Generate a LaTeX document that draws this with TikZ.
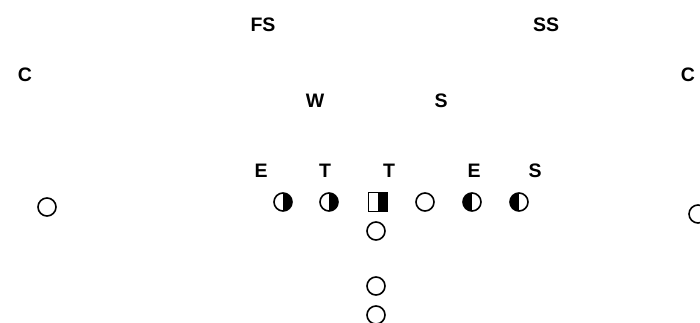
\documentclass[tikz,border=0pt]{standalone}
\usepackage{fontspec}
\setmainfont{Liberation Sans}
\tikzset{every picture/.style={line width=0.75pt}}

\begin{document}
\begin{tikzpicture}[x=1pt, y=-1pt,
    tag/.style={font=\fontsize{19.5}{19.5}\selectfont\bfseries, inner sep=0pt},
    player/.style={circle, draw, line width=1.6pt, minimum size=18pt, inner sep=0pt},
    rhalf/.style={player, path picture={\fill (path picture bounding box.north) rectangle (path picture bounding box.south east);}},
    lhalf/.style={player, path picture={\fill (path picture bounding box.north west) rectangle (path picture bounding box.south);}},
    snapbox/.style={rectangle, draw, line width=1.6pt, minimum size=19pt, inner sep=0pt,
        path picture={\fill (path picture bounding box.north) rectangle (path picture bounding box.south east);}}]
    \useasboundingbox (0,0) rectangle (700,323);
    \clip (0,0) rectangle (700,323);
    % defense
    \node[tag] (fs) at (263,25) {FS};
    \node[tag] (ss) at (546,25) {SS};
    \node[tag] (cl) at (25,75) {C};
    \node[tag] (cr) at (688,75) {C};
    \node[tag] (w) at (315,101) {W};
    \node[tag] (s) at (441,101) {S};
    \node[tag] (e1) at (261,171) {E};
    \node[tag] (t1) at (325,171) {T};
    \node[tag] (t2) at (389,171) {T};
    \node[tag] (e2) at (474,171) {E};
    \node[tag] (s2) at (535,171) {S};
    % offense
    \node[player] (wr1) at (47,207) {};
    \node[player] (wr2) at (698,214) {};
    \node[rhalf] (lt) at (283,202) {};
    \node[rhalf] (lg) at (329,202) {};
    \node[snapbox] (ctr) at (378,202) {};
    \node[player] (rg) at (425,202) {};
    \node[lhalf] (rt) at (472,202) {};
    \node[lhalf] (te) at (519,202) {};
    \node[player] (qb) at (376,231) {};
    \node[player] (fb) at (376,286) {};
    \node[player] (hb) at (376,315) {};
\end{tikzpicture}
\end{document}
